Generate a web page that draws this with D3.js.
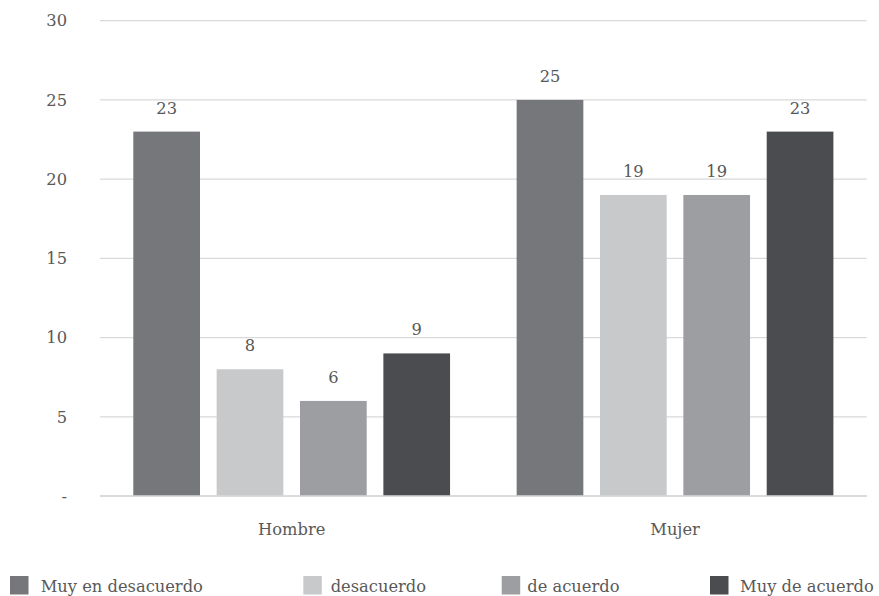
<!DOCTYPE html>
<html><head><meta charset="utf-8">
<script src="https://cdn.jsdelivr.net/npm/d3@7"></script>
<style>body{margin:0;background:#fff}svg{display:block} text{font-family:"DejaVu Serif", serif;}</style>
</head><body>
<div id="chart"></div>
<script>
const categories = ["Hombre", "Mujer"];
const seriesNames = ["Muy en desacuerdo", "desacuerdo", "de acuerdo", "Muy de acuerdo"];
const muyEnDesacuerdo = [23, 25];
const desacuerdo = [8, 19];
const deAcuerdo = [6, 19];
const muyDeAcuerdo = [9, 23];
const yTicks = [0, 5, 10, 15, 20, 25, 30];
const yTickLabels = ["-", "5", "10", "15", "20", "25", "30"];
const seriesValues = [muyEnDesacuerdo, desacuerdo, deAcuerdo, muyDeAcuerdo];
const colors = ["#76777b", "#c8c9cb", "#9d9ea2", "#4b4c4f"];

const W = 879, H = 596;
const fs = 16.3;
const txt = "#595959";
const svg = d3.select("#chart").append("svg").attr("width", W).attr("height", H);

const x0 = d3.scaleBand().domain(categories).range([100, 866.7]).paddingInner(0).paddingOuter(0);
const x1 = d3.scaleBand().domain(seriesNames).range([33.3, x0.bandwidth() - 33.3]).paddingInner(0.2).paddingOuter(0);
const y = d3.scaleLinear().domain([0, 30]).range([496, 20.7]);

svg.append("g").selectAll("line").data(yTicks).join("line")
  .attr("x1", 100).attr("x2", 866.7)
  .attr("y1", d => y(d)).attr("y2", d => y(d))
  .attr("stroke", "#d9d9d9").attr("stroke-width", 1.3);

const yAxis = d3.axisLeft(y).tickValues(yTicks).tickFormat((d, i) => yTickLabels[i]).tickSize(0).tickPadding(0);
const gy = svg.append("g").attr("transform", "translate(67,0)").call(yAxis);
gy.select(".domain").remove();
gy.selectAll("text").attr("font-size", fs).attr("fill", txt).attr("dy", "0.32em");

const groups = svg.append("g").selectAll("g").data(categories).join("g")
  .attr("transform", d => `translate(${x0(d)},0)`);
groups.each(function(cat, ci) {
  const g = d3.select(this);
  const data = seriesNames.map((s, si) => ({s, si, v: seriesValues[si][ci]}));
  g.selectAll("rect").data(data).join("rect")
    .attr("x", d => x1(d.s)).attr("width", x1.bandwidth())
    .attr("y", d => y(d.v)).attr("height", d => y(0) - y(d.v))
    .attr("fill", d => colors[d.si]);
  g.selectAll("text").data(data).join("text")
    .attr("x", d => x1(d.s) + x1.bandwidth() / 2)
    .attr("y", d => y(d.v) - 18)
    .attr("text-anchor", "middle")
    .attr("font-size", fs).attr("fill", txt)
    .text(d => d.v);
});

svg.append("line").attr("x1", 100).attr("x2", 866.7).attr("y1", y(0)).attr("y2", y(0))
  .attr("stroke", "#d9d9d9").attr("stroke-width", 1.5);

const xAxis = d3.axisBottom(x0).tickSize(0).tickPadding(0);
const gx = svg.append("g").attr("transform", `translate(0,${y(0) + 39})`).call(xAxis);
gx.select(".domain").remove();
gx.selectAll("text").attr("font-size", fs).attr("fill", txt).attr("dy", "0");

const legendX = [10, 303.3, 501.7, 710];
const legendTextX = [40.7, 330.7, 527.3, 740];
const lg = svg.append("g").selectAll("g").data(seriesNames).join("g");
lg.append("rect").attr("x", (d, i) => legendX[i]).attr("y", 576)
  .attr("width", 18.5).attr("height", 18.5).attr("fill", (d, i) => colors[i]);
lg.append("text").attr("x", (d, i) => legendTextX[i]).attr("y", 592)
  .attr("font-size", fs).attr("fill", txt).text(d => d);
</script>
</body></html>
